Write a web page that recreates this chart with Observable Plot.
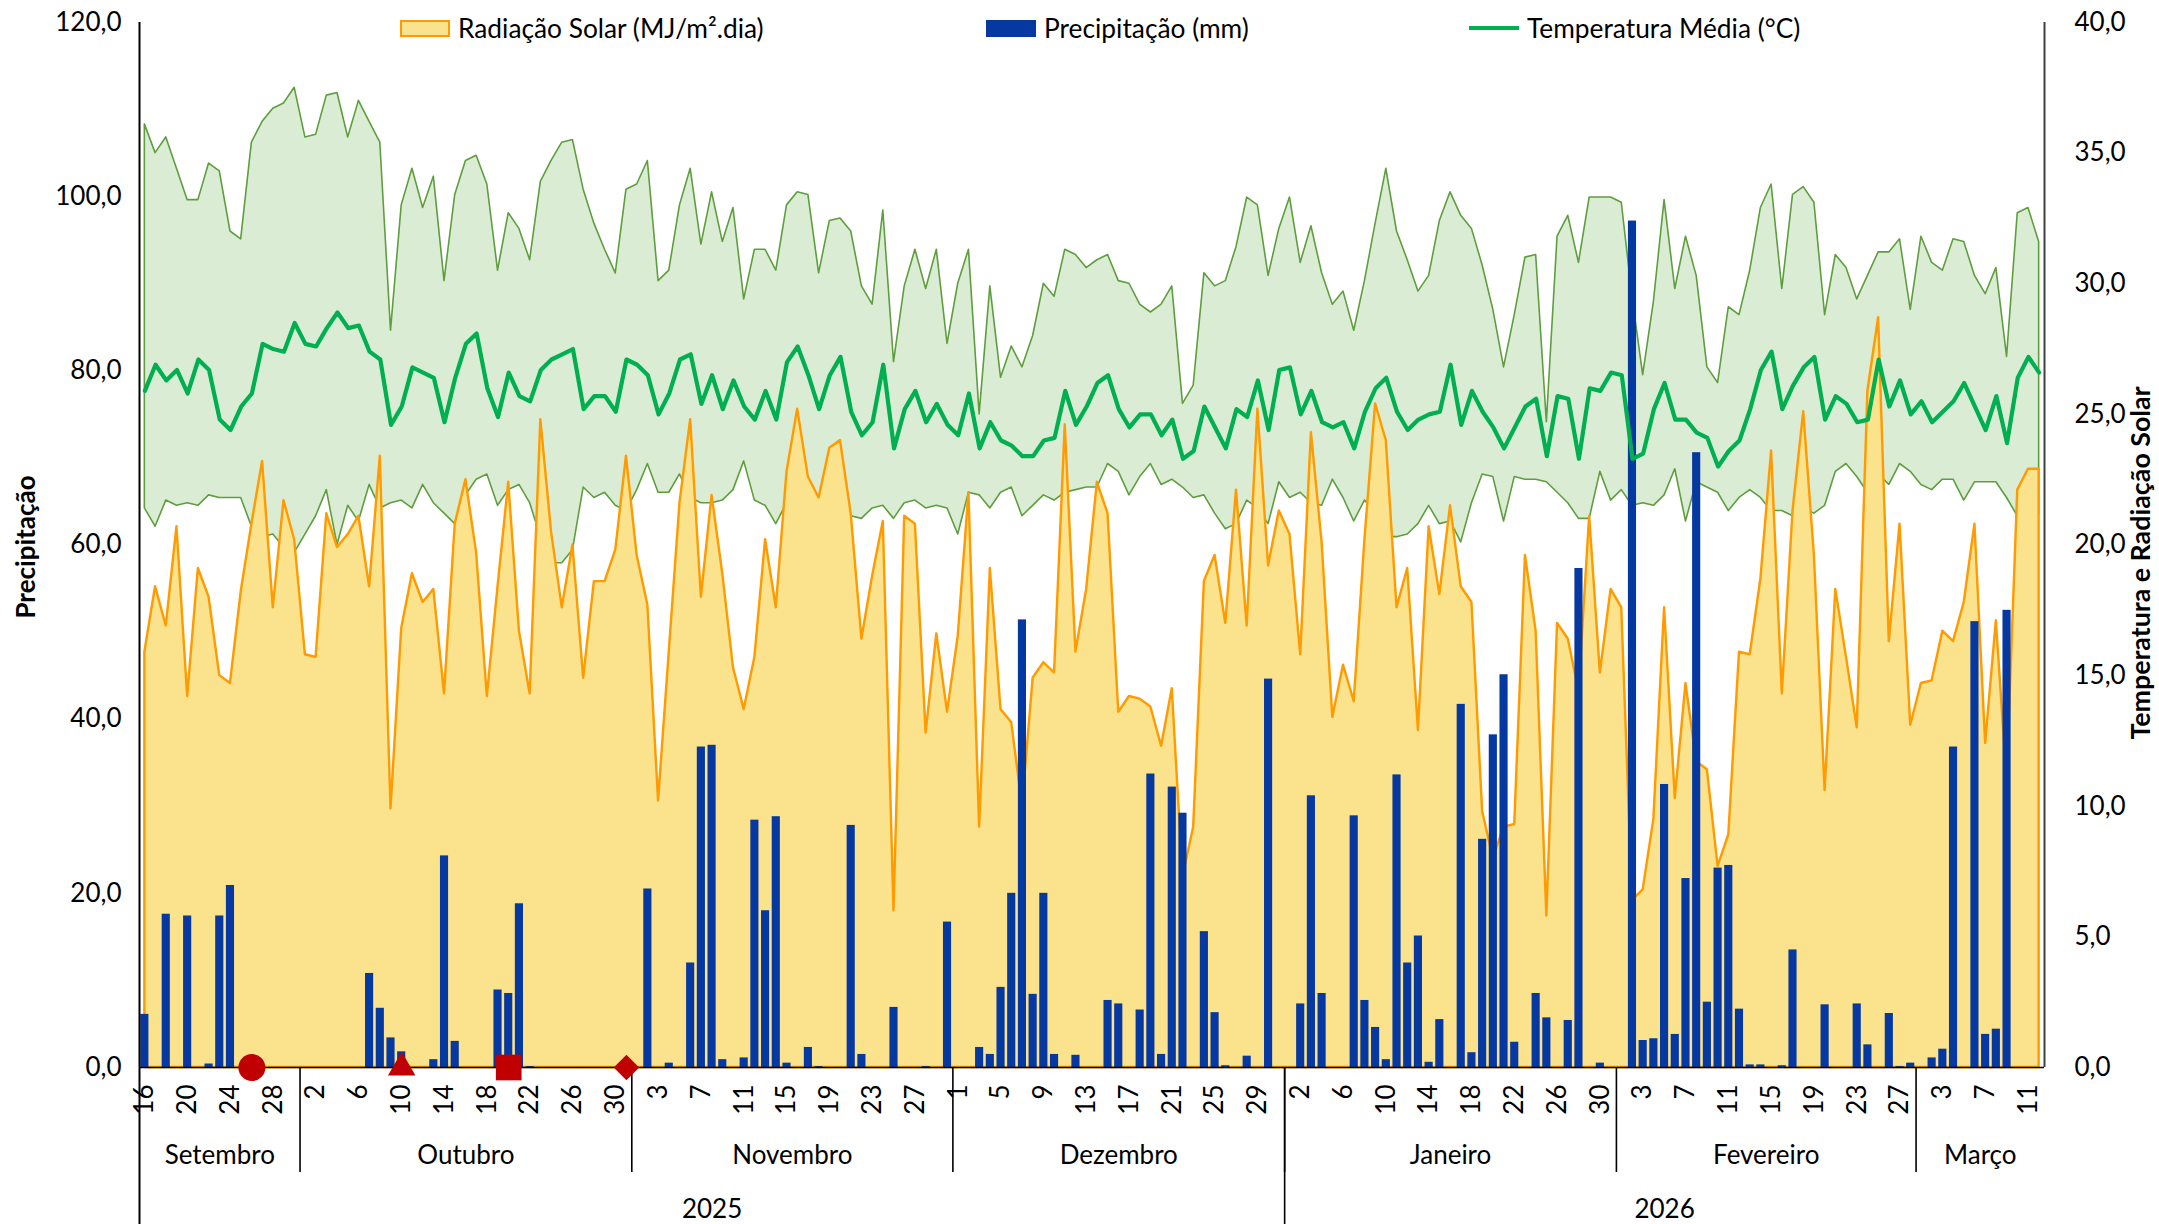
<!DOCTYPE html>
<html><head><meta charset="utf-8">
<script src="https://cdn.jsdelivr.net/npm/d3@7"></script>
<script src="https://cdn.jsdelivr.net/npm/@observablehq/plot@0.6"></script>
<style>
body{margin:0;background:#fff;font-family:Lato,"Open Sans",sans-serif;}
#wrap{position:relative;width:2159px;height:1224px;overflow:hidden;background:#fff;}
#wrap svg{position:absolute;left:0;top:0;}
.leg{position:absolute;top:11px;height:34px;display:flex;align-items:center;font-size:26.3px;color:#000;white-space:nowrap;}
.sw{display:inline-block;margin-right:8px;box-sizing:border-box;}
.ttl{position:absolute;font-weight:bold;color:#000;white-space:nowrap;line-height:1;transform:translate(-50%,-50%) rotate(-90deg);}
</style></head><body><div id="wrap"></div>
<script>
// ---- data (daily, 16 Sep 2025 – 12 Mar 2026) ----
const dataInicio = "2025-09-16";
const dataFim = "2026-03-12";

const precipitacao = [
 6.1,0,17.6,0,17.4,0,0.4,17.4,20.9,0,
 0,0,0,0,0,0,0,0,0,0,
 0,10.8,6.8,3.4,1.8,0,0,0.9,24.3,3.0,
 0,0,0,8.9,8.5,18.8,0.1,0,0,0,
 0,0,0,0,0,0,0,20.5,0,0.5,
 0,12.0,36.8,37.0,0.9,0,1.1,28.4,18.0,28.8,
 0.5,0,2.3,0.1,0,0,27.8,1.5,0,0,
 6.9,0,0,0.1,0,16.7,0,0,2.3,1.5,
 9.2,20.0,51.4,8.4,20.0,1.5,0,1.4,0,0,
 7.7,7.3,0,6.6,33.7,1.5,32.2,29.2,0,15.6,
 6.3,0.2,0,1.3,0,44.6,0,0,7.3,31.2,
 8.5,0,0,28.9,7.7,4.6,0.9,33.6,12.0,15.1,
 0.6,5.5,0,41.7,1.7,26.2,38.2,45.1,2.9,0,
 8.5,5.7,0,5.4,57.3,0,0.5,0,0,97.2,
 3.1,3.3,32.5,3.8,21.7,70.6,7.5,22.9,23.2,6.7,
 0.3,0.3,0,0.2,13.5,0,0,7.2,0,0,
 7.3,2.6,0,6.2,0.1,0.5,0,1.1,2.1,36.8,
 0,51.2,3.8,4.4,52.5,0,0,0
];

const radiacao = [
 15.9,18.4,16.9,20.7,14.2,19.1,18.0,15.0,14.7,18.2,
 20.8,23.2,17.6,21.7,20.2,15.8,15.7,21.2,19.9,20.4,
 21.1,18.4,23.4,9.9,16.8,18.9,17.8,18.3,14.3,20.8,
 22.5,19.7,14.2,18.4,22.4,16.7,14.3,24.8,20.5,17.6,
 20.0,14.9,18.6,18.6,19.8,23.4,19.6,17.7,10.2,15.9,
 21.6,24.8,18.0,21.9,18.9,15.3,13.7,15.7,20.2,17.6,
 22.8,25.2,22.6,21.8,23.7,24.0,21.2,16.4,18.8,20.9,
 6.0,21.1,20.8,12.8,16.6,13.6,16.5,22.0,9.2,19.1,
 13.7,13.2,10.0,14.9,15.5,15.1,24.6,15.9,18.3,22.4,
 21.2,13.6,14.2,14.1,13.8,12.3,14.5,7.3,9.2,18.6,
 19.6,17.0,22.1,16.9,25.2,19.2,21.3,20.4,15.8,24.3,
 20.1,13.4,15.4,14.0,20.2,25.4,24.0,17.6,19.1,12.9,
 20.7,18.1,21.5,18.4,17.8,9.8,8.0,9.2,9.3,19.6,
 16.7,5.8,17.0,16.4,14.4,21.1,15.1,18.3,17.6,6.4,
 6.8,9.5,17.6,10.3,14.7,11.7,11.4,7.7,8.9,15.9,
 15.8,18.7,23.6,14.3,21.3,25.1,19.6,10.6,18.3,15.7,
 13.0,25.9,28.7,16.3,20.8,13.1,14.7,14.8,16.7,16.3,
 17.8,20.8,12.4,17.1,11.0,22.1,22.9,22.9
];

const tempMedia = [
 25.9,26.9,26.3,26.7,25.8,27.1,26.7,24.8,24.4,25.3,
 25.8,27.7,27.5,27.4,28.5,27.7,27.6,28.3,28.9,28.3,
 28.4,27.4,27.1,24.6,25.3,26.8,26.6,26.4,24.7,26.4,
 27.7,28.1,26.0,24.9,26.6,25.7,25.5,26.7,27.1,27.3,
 27.5,25.2,25.7,25.7,25.1,27.1,26.9,26.5,25.0,25.8,
 27.1,27.3,25.4,26.5,25.2,26.3,25.3,24.8,25.9,24.8,
 27.0,27.6,26.5,25.2,26.5,27.2,25.1,24.2,24.7,26.9,
 23.7,25.2,25.9,24.7,25.4,24.6,24.2,25.8,23.7,24.7,
 24.0,23.8,23.4,23.4,24.0,24.1,25.9,24.6,25.3,26.2,
 26.5,25.2,24.5,25.0,25.0,24.2,24.8,23.3,23.6,25.3,
 24.5,23.7,25.2,24.9,26.3,24.4,26.7,26.8,25.0,25.9,
 24.7,24.5,24.7,23.7,25.1,26.0,26.4,25.1,24.4,24.8,
 25.0,25.1,26.9,24.6,25.9,25.1,24.5,23.7,24.5,25.3,
 25.6,23.4,25.7,25.6,23.3,26.0,25.9,26.6,26.5,23.3,
 23.5,25.2,26.2,24.8,24.8,24.3,24.1,23.0,23.6,24.0,
 25.2,26.7,27.4,25.2,26.1,26.8,27.2,24.8,25.7,25.4,
 24.7,24.8,27.1,25.3,26.3,25.0,25.5,24.7,25.1,25.5,
 26.2,25.3,24.4,25.7,23.9,26.4,27.2,26.6
];

const tempMax = [
 36.1,35.0,35.6,34.4,33.2,33.2,34.6,34.3,32.0,31.7,
 35.4,36.2,36.7,36.9,37.5,35.6,35.7,37.2,37.3,35.6,
 37.0,36.2,35.4,28.2,33.0,34.4,32.9,34.1,30.1,33.4,
 34.7,34.9,33.8,30.5,32.7,32.1,30.9,33.9,34.7,35.4,
 35.5,33.6,32.3,31.3,30.4,33.6,33.8,34.7,30.1,30.5,
 33.0,34.4,31.5,33.5,31.6,32.9,29.4,31.3,31.3,30.5,
 33.0,33.5,33.4,30.4,32.4,32.5,32.0,29.9,29.2,32.8,
 27.0,29.9,31.3,29.8,31.3,27.7,30.0,31.3,25.0,29.9,
 26.4,27.6,26.8,28.0,30.0,29.5,31.3,31.1,30.6,30.9,
 31.1,30.1,30.0,29.2,28.9,29.2,29.9,25.4,26.1,30.4,
 29.9,30.1,31.4,33.3,33.0,30.3,32.1,33.3,30.8,32.2,
 30.4,29.2,29.7,28.2,30.1,32.3,34.4,32.0,30.9,29.7,
 30.3,32.4,33.5,32.6,32.1,30.7,29.0,26.8,28.8,31.0,
 31.1,24.7,31.8,32.6,30.8,33.3,33.3,33.3,33.1,29.5,
 26.5,29.3,33.2,29.8,31.8,30.3,26.8,26.2,29.1,28.8,
 30.5,32.9,33.8,29.8,33.4,33.7,33.1,28.8,31.1,30.6,
 29.4,30.3,31.2,31.2,31.7,29.0,31.8,30.8,30.5,31.7,
 31.6,30.3,29.6,30.6,27.2,32.7,32.9,31.6
];

const tempMin = [
 21.4,20.7,21.7,21.5,21.6,21.5,21.9,21.8,21.8,21.8,
 20.7,20.3,20.4,19.9,19.7,20.4,21.1,22.1,20.0,21.5,
 20.9,22.3,21.4,21.6,21.7,21.4,22.3,21.6,21.2,20.8,
 21.9,22.5,22.7,21.5,22.1,22.3,21.6,20.3,19.3,19.3,
 19.8,22.2,21.8,22.0,21.5,21.3,22.1,23.1,22.0,22.0,
 22.7,21.8,21.6,21.6,21.7,22.1,23.2,21.7,21.5,20.8,
 21.6,21.5,21.7,21.6,21.3,21.2,21.1,21.0,21.4,21.5,
 21.0,21.6,21.7,21.4,21.5,21.4,20.4,22.0,21.9,21.4,
 22.0,22.2,21.1,21.5,21.9,21.7,22.0,22.1,22.2,22.2,
 23.1,22.8,21.9,22.6,23.1,22.3,22.5,22.2,21.8,21.9,
 21.2,20.6,20.8,21.7,21.4,20.8,22.4,21.8,22.0,21.6,
 21.5,22.5,21.8,20.9,21.7,21.2,20.3,20.3,20.4,20.8,
 21.5,20.8,20.9,20.1,21.6,22.7,22.6,20.9,22.6,22.5,
 22.5,22.4,22.0,21.6,21.0,21.0,22.8,21.7,22.1,21.5,
 21.6,21.5,21.9,22.9,20.9,22.4,22.2,22.0,21.3,21.8,
 22.1,21.8,21.3,21.3,21.1,21.4,21.2,21.5,22.8,23.1,
 22.6,22.0,22.7,22.3,23.1,22.8,22.3,22.1,22.5,22.5,
 21.7,22.4,22.4,22.4,21.8,21.1,21.6,21.2
];

const meses = ["Setembro","Outubro","Novembro","Dezembro","Janeiro","Fevereiro","Março"];
const anos = ["2025","2026"];
const marcadores = [
 {data:"2025-09-26", simbolo:"circle"},
 {data:"2025-10-10", simbolo:"triangle"},
 {data:"2025-10-20", simbolo:"square"},
 {data:"2025-10-31", simbolo:"diamond2"}
];
const ticksEsquerda = [0,20,40,60,80,100,120];
const ticksDireita = [0,5,10,15,20,25,30,35,40];

// ---- build ----
const DAY = 864e5;
const fator = 120 / 40; // right axis (0–40) onto left axis (0–120)
const fmt = v => d3.format(".1f")(v).replace(".", ",");
const dates = d3.utcDay.range(new Date(dataInicio), d3.utcDay.offset(new Date(dataFim), 1));
const rows = dates.map((d, i) => ({
  date: d, p: precipitacao[i], r: radiacao[i] * fator,
  tm: tempMedia[i] * fator, tx: tempMax[i] * fator, tn: tempMin[i] * fator
}));
const x0 = new Date(+dates[0] - DAY / 2), x1 = new Date(+dates[dates.length - 1] + DAY / 2);
const tickDates = dates.filter((d, i) => i % 4 === 0);
const mesGrupos = d3.groups(dates, d => +d3.utcMonth(d)).map(([k, ds], i) => ({
  name: meses[i], mid: new Date((+ds[0] + +ds[ds.length - 1]) / 2), start: new Date(+ds[0] - DAY / 2)
}));
const anoGrupos = d3.groups(dates, d => d.getUTCFullYear()).map(([k, ds], i) => ({
  name: anos[i], mid: new Date((+ds[0] + +ds[ds.length - 1]) / 2), start: new Date(+ds[0] - DAY / 2)
}));
const mesSep = mesGrupos.slice(1).map(d => d.start);
const anoSep = anoGrupos.slice(1).map(d => d.start);

const W = 2159, H = 1224, mL = 139, mR = 115, mT = 22, mB = 157;
const frameH = H - mT - mB;
const symR = {circle: 13.5, triangle: 10.2, square: 14.5, diamond2: 11.5};

const chart = Plot.plot({
  width: W, height: H,
  marginLeft: mL, marginRight: mR, marginTop: mT, marginBottom: mB,
  style: {fontFamily: "Lato, 'Open Sans', sans-serif", fontSize: "26px", color: "#000", background: "transparent", overflow: "visible"},
  x: {type: "utc", domain: [x0, x1]},
  y: {domain: [0, 120]},
  marks: [
    Plot.areaY(rows, {x: "date", y1: "tn", y2: "tx", fill: "#DAEDD4", stroke: "#5E9E3E", strokeWidth: 1.6}),
    Plot.areaY(rows, {x: "date", y: "r", fill: "#FBE28C", stroke: "#FF9A00", strokeWidth: 2.4}),
    Plot.rectY(rows.filter(d => d.p > 0), {
      x1: d => new Date(+d.date - 0.38 * DAY), x2: d => new Date(+d.date + 0.38 * DAY),
      y: "p", fill: "#0638A2"
    }),
    Plot.lineY(rows, {x: "date", y: "tm", stroke: "#00B050", strokeWidth: 4.2}),
    Plot.ruleY([0], {stroke: "#000", strokeWidth: 1.6}),
    Plot.ruleX([x0], {stroke: "#000", strokeWidth: 2, insetBottom: -mB}),
    Plot.ruleX([x1], {stroke: "#404040", strokeWidth: 2}),
    Plot.ruleX(mesSep, {stroke: "#000", strokeWidth: 1.6, insetTop: frameH, insetBottom: -105}),
    Plot.ruleX(anoSep, {stroke: "#000", strokeWidth: 1.6, insetTop: frameH, insetBottom: -mB}),
    Plot.axisY({anchor: "left", ticks: ticksEsquerda, tickSize: 0, tickPadding: 18, tickFormat: fmt, label: null}),
    Plot.axisY({anchor: "right", ticks: ticksDireita.map(v => v * fator), tickSize: 0, tickPadding: 30, tickFormat: v => fmt(v / fator), label: null}),
    Plot.axisX({ticks: tickDates, tickFormat: d => String(d.getUTCDate()), tickRotate: -90, tickSize: 0, tickPadding: 17, label: null}),
    Plot.text(mesGrupos, {x: "mid", text: "name", frameAnchor: "bottom", dy: 96, fontSize: 26, fill: "#000"}),
    Plot.text(anoGrupos, {x: "mid", text: "name", frameAnchor: "bottom", dy: 150, fontSize: 26, fill: "#000"}),
    ...marcadores.map(m => Plot.dot([m], {x: d => new Date(d.data), y: () => 0, symbol: m.simbolo, r: symR[m.simbolo], fill: "#C00000", stroke: "none"}))
  ]
});

const wrap = document.getElementById("wrap");
wrap.appendChild(chart);

// legend + axis titles
wrap.insertAdjacentHTML("beforeend", `
 <div class="leg" style="left:400px"><span class="sw" style="width:50px;height:17px;background:#FBE28C;border:2px solid #FF9A00"></span><span>Radiação Solar (MJ/m².dia)</span></div>
 <div class="leg" style="left:986px"><span class="sw" style="width:50px;height:17px;background:#0638A2"></span><span>Precipitação (mm)</span></div>
 <div class="leg" style="left:1469px"><span class="sw" style="width:50px;height:4px;background:#00B050"></span><span>Temperatura Média (°C)</span></div>
 <div class="ttl" style="left:25px;top:547px;font-size:26px">Precipitação</div>
 <div class="ttl" style="left:2140px;top:563px;font-size:26.8px">Temperatura e Radiação Solar</div>
`);
</script>
</body></html>
